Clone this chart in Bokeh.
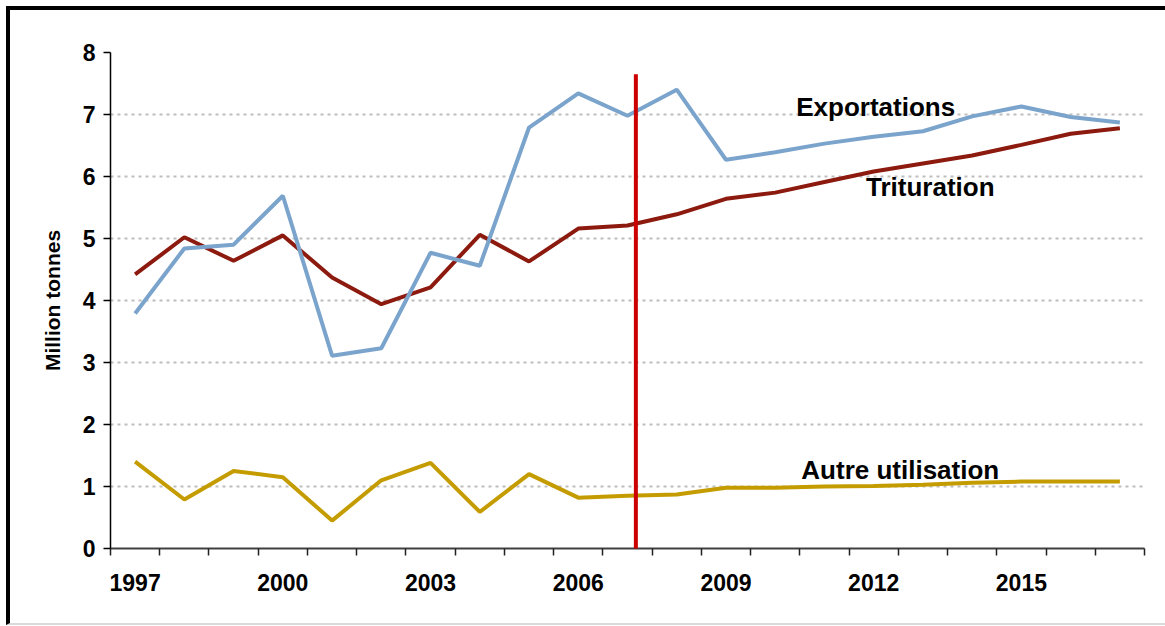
from bokeh.plotting import figure
from bokeh.models import Range1d, FixedTicker, Label, Arrow
from bokeh.embed import file_html
from bokeh.resources import INLINE

years = list(range(1997, 2018))
exportations = [3.79, 4.84, 4.90, 5.69, 3.11, 3.23, 4.77, 4.56, 6.79, 7.34, 6.98,
                7.40, 6.27, 6.39, 6.53, 6.64, 6.73, 6.97, 7.13, 6.96, 6.87]
trituration = [4.42, 5.02, 4.64, 5.05, 4.37, 3.94, 4.21, 5.06, 4.63, 5.16, 5.21,
               5.39, 5.64, 5.74, 5.91, 6.08, 6.21, 6.34, 6.51, 6.69, 6.78]
autre = [1.40, 0.79, 1.25, 1.15, 0.45, 1.10, 1.38, 0.59, 1.20, 0.82, 0.85,
         0.87, 0.98, 0.98, 1.00, 1.01, 1.03, 1.06, 1.08, 1.08, 1.08]
tick_years = [1997, 2000, 2003, 2006, 2009, 2012, 2015]
y_ticks = [0, 1, 2, 3, 4, 5, 6, 7, 8]
series_names = ["Exportations", "Trituration", "Autre utilisation"]
forecast_x = 2007.17
forecast_top = 7.65

FONT = "Liberation Sans"
W, H = 1159, 619

p = figure(width=W, height=H,
           x_range=Range1d(years[0] - 0.5, years[-1] + 0.5),
           y_range=Range1d(0, 8),
           output_backend="svg", toolbar_location=None,
           min_border_left=100, min_border_right=25,
           min_border_top=42, min_border_bottom=81)
p.styles = {"margin-left": "6px", "margin-top": "6px",
            "border-left": "4px solid #000000", "border-top": "4px solid #000000",
            "border-bottom": "2px solid #d9d9d9", "overflow": "hidden"}
p.outline_line_color = None
p.background_fill_color = "white"
p.border_fill_color = "white"

# x axis
p.xaxis.ticker = FixedTicker(ticks=tick_years,
                             minor_ticks=[y - 0.5 for y in years] + [years[-1] + 0.5])
p.xaxis.axis_line_color = "#404040"
p.xaxis.axis_line_width = 2
p.xaxis.major_tick_out = 0
p.xaxis.major_tick_in = 0
p.xaxis.minor_tick_out = 7
p.xaxis.minor_tick_in = 0
p.xaxis.minor_tick_line_color = "#202020"
p.xaxis.minor_tick_line_width = 1.5
p.xaxis.major_label_standoff = 18
p.xaxis.major_label_text_font = FONT
p.xaxis.major_label_text_font_style = "bold"
p.xaxis.major_label_text_font_size = "23px"
p.xaxis.major_label_text_color = "black"

# y axis
p.yaxis.ticker = FixedTicker(ticks=y_ticks, minor_ticks=[])
p.yaxis.axis_line_color = "black"
p.yaxis.axis_line_width = 1.5
p.yaxis.major_tick_out = 7
p.yaxis.major_tick_in = 0
p.yaxis.major_tick_line_color = "black"
p.yaxis.major_tick_line_width = 1.5
p.yaxis.minor_tick_line_color = None
p.yaxis.major_label_standoff = 8
p.yaxis.major_label_text_font = FONT
p.yaxis.major_label_text_font_style = "bold"
p.yaxis.major_label_text_font_size = "23px"
p.yaxis.major_label_text_color = "black"
p.yaxis.axis_label = "Million tonnes"
p.yaxis.axis_label_text_font = FONT
p.yaxis.axis_label_text_font_style = "bold"
p.yaxis.axis_label_text_font_size = "21px"
p.yaxis.axis_label_text_color = "black"
p.yaxis.axis_label_standoff = 16

p.xgrid.grid_line_color = None
p.ygrid.grid_line_color = "#BDBDBD"
p.ygrid.grid_line_dash = "3 4"
p.ygrid.grid_line_width = 2

p.line(years, trituration, line_color="#8C1A0E", line_width=4)
p.line(years, exportations, line_color="#7BA4CD", line_width=4)
p.line(years, autre, line_color="#C49C00", line_width=4)

p.add_layout(Arrow(x_start=forecast_x, y_start=-0.09, x_end=forecast_x, y_end=forecast_top,
                   start=None, end=None, line_color="#CC0000", line_width=4))

label_pos = [(2012.04, 7.115), (2013.15, 5.835), (2012.54, 1.265)]
for name, (lx, ly) in zip(series_names, label_pos):
    p.add_layout(Label(x=lx, y=ly, text=name, text_align="center",
                       text_baseline="alphabetic", text_font=FONT,
                       text_font_style="bold", text_font_size="26px",
                       text_color="black"))

open("out.html", "w").write(file_html(p, INLINE))
